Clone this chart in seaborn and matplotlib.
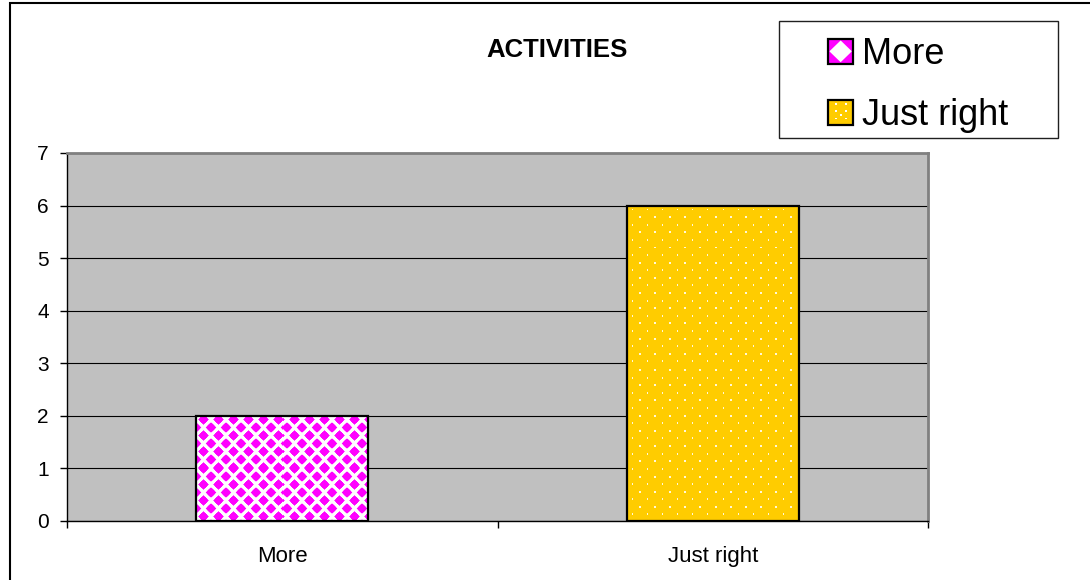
import numpy as np
import pandas as pd
import matplotlib
matplotlib.use("Agg")
import matplotlib.pyplot as plt
from matplotlib.patches import Rectangle, Polygon
from matplotlib.legend_handler import HandlerBase
import seaborn as sns

# Survey data
categories = ["More", "Just right"]
responses = [2, 6]
bar_colors = ["#FF00FF", "#FFCC00"]
fill_styles = ["diamonds", "dots"]
y_ticks = [0, 1, 2, 3, 4, 5, 6, 7]
chart_title = "ACTIVITIES"

sns.set_style("white")
plt.rcParams["font.family"] = ["Liberation Sans", "DejaVu Sans"]
plt.rcParams.update({"text.color": "black", "axes.labelcolor": "black",
                     "xtick.color": "black", "ytick.color": "black"})

W, H = 1090, 580
fig = plt.figure(figsize=(W / 100, H / 100), dpi=100)
fig.patch.set_facecolor("white")

ax = fig.add_axes([67 / W, 1 - 521 / H, (928 - 67) / W, (521 - 153) / H])
ax.set_facecolor("#C0C0C0")

df = pd.DataFrame({"category": categories, "count": responses})
sns.barplot(data=df, x="category", y="count", hue="category",
            palette=bar_colors, saturation=1, width=0.4, legend=False,
            edgecolor="black", linewidth=1.6, ax=ax, zorder=3)

ax.set_xlim(-0.5, len(categories) - 0.5)
ax.set_ylim(y_ticks[0], y_ticks[-1])
ax.set_yticks(y_ticks)
ax.set_xlabel("")
ax.set_ylabel("")
ax.set_axisbelow(True)
ax.yaxis.grid(True, color="black", linewidth=0.8)
ax.xaxis.grid(False)

for side in ("left", "bottom"):
    ax.spines[side].set_color("black")
    ax.spines[side].set_linewidth(1.0)
for side in ("top", "right"):
    ax.spines[side].set_color("#808080")
    ax.spines[side].set_linewidth(2.0)

# category separators as outward ticks on the x axis
ax.set_xticks(np.arange(-0.5, len(categories)), minor=True)
ax.tick_params(axis="x", which="major", length=0, pad=18, labelsize=16)
ax.tick_params(axis="x", which="minor", length=5, width=1, direction="out",
               color="black", bottom=True)
ax.tick_params(axis="y", which="major", length=5, width=1, direction="out",
               color="black", left=True, pad=8, labelsize=15)


def pattern_image(style, base, w, h):
    rows, cols = np.mgrid[0:h, 0:w].astype(float)
    img = np.ones((h, w, 3))
    rgb = np.array(matplotlib.colors.to_rgb(base))
    if style == "diamonds":
        px, py = 15.0, 8.0
        r = 5.4
        dist = np.full((h, w), np.inf)
        for shift in (0.0, 1.0):
            cx = (cols - 7 - shift * px / 2) % px
            cy = (rows - 4 - shift * py) % (2 * py)
            dx = np.minimum(cx, px - cx)
            dy = np.minimum(cy, 2 * py - cy)
            # slightly rounded diamond
            d = 0.8 * (dx + dy) + 0.2 * np.hypot(dx, dy) * 1.3
            dist = np.minimum(dist, d)
        cover = np.clip(r + 0.5 - dist, 0, 1)[..., None]
        img = cover * rgb + (1 - cover) * np.ones(3)
    else:
        img[:] = rgb
        px, py = 15.0, 7.6
        mask = np.zeros((h, w), bool)
        for shift in (0.0, 1.0):
            cx = (cols - 5 - shift * px / 2) % px
            cy = (rows - 4 - shift * py) % (2 * py)
            mask |= (np.minimum(cx, px - cx) < 1.0) & (np.minimum(cy, 2 * py - cy) < 1.0)
        img[mask] = np.array([1.0, 0.97, 0.85])
    return img


# fill each bar with its printed texture
fig.canvas.draw()
for patch, style, color in zip(ax.patches, fill_styles, bar_colors):
    bb = patch.get_window_extent()
    w, h = max(int(round(bb.width)), 1), max(int(round(bb.height)), 1)
    x0, y0 = patch.get_x(), patch.get_y()
    ax.imshow(pattern_image(style, color, w, h),
              extent=(x0, x0 + patch.get_width(), y0, y0 + patch.get_height()),
              origin="upper", aspect="auto", interpolation="nearest", zorder=2.5)
    patch.set_facecolor("none")
ax.set_xlim(-0.5, len(categories) - 0.5)
ax.set_ylim(y_ticks[0], y_ticks[-1])


class SwatchHandler(HandlerBase):
    def __init__(self, color, style):
        super().__init__()
        self.color = color
        self.style = style

    def create_artists(self, legend, orig_handle, xdescent, ydescent,
                       width, height, fontsize, trans):
        x0, y0 = -xdescent, -ydescent
        arts = [Rectangle((x0, y0), width, height, facecolor=self.color,
                          edgecolor="none", transform=trans)]
        if self.style == "diamonds":
            cx, cy = x0 + width / 2, y0 + height / 2
            arts.append(Polygon([(cx, y0 + 1), (x0 + width - 1, cy),
                                 (cx, y0 + height - 1), (x0 + 1, cy)],
                                closed=True, facecolor="white",
                                edgecolor="none", transform=trans))
        else:
            for fx in (0.3, 0.7):
                for fy in (0.25, 0.55, 0.85):
                    arts.append(Rectangle((x0 + fx * width - 0.7, y0 + fy * height - 0.7),
                                          1.4, 1.4, facecolor="white",
                                          edgecolor="none", transform=trans))
            arts.append(Rectangle((x0 + 0.5 * width - 0.7, y0 + 0.4 * height - 0.7),
                                  1.4, 1.4, facecolor="white", edgecolor="none",
                                  transform=trans))
        arts.append(Rectangle((x0, y0), width, height, facecolor="none",
                              edgecolor="black", linewidth=1.6, transform=trans))
        return arts


handles = [Rectangle((0, 0), 1, 1) for _ in categories]
handler_map = {h: SwatchHandler(c, s) for h, c, s in zip(handles, bar_colors, fill_styles)}
fig.legend(handles, categories, handler_map=handler_map,
           loc="upper left", bbox_to_anchor=(828 / W, 1 - 37 / H),
           bbox_transform=fig.transFigure, frameon=False,
           fontsize=26, borderpad=0, borderaxespad=0,
           handlelength=0.7, handleheight=0.67, handletextpad=0.25,
           labelspacing=0.72)

# legend frame
fig.add_artist(Rectangle((779 / W, 1 - 138 / H), (1058 - 779) / W, (138 - 21) / H,
                         transform=fig.transFigure, facecolor="none",
                         edgecolor="#202020", linewidth=1.0))

# chart border
fig.add_artist(Rectangle((9.5 / W, -0.2), 1.2, 1.2 - 2.5 / H,
                         transform=fig.transFigure, facecolor="none",
                         edgecolor="black", linewidth=1.5))

fig.text(557 / W, 1 - 50 / H, chart_title, ha="center", va="center",
         fontsize=18.5, fontweight="bold")

fig.savefig("out.png", dpi=100)
